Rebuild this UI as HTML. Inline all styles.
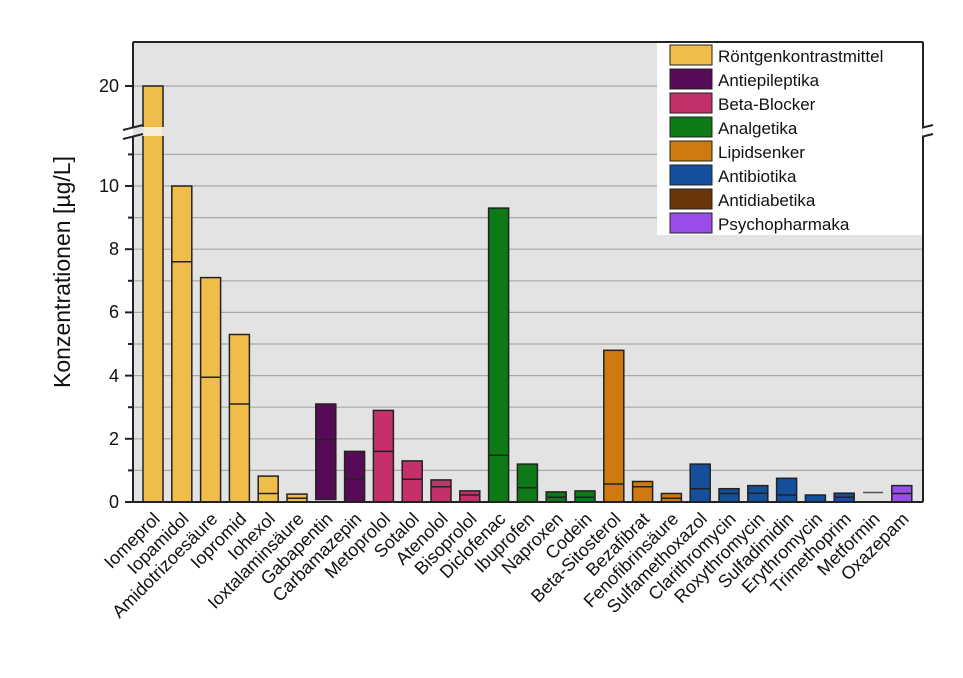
<!DOCTYPE html>
<html><head><meta charset="utf-8"><style>
body{margin:0;background:#fff}
svg text{font-family:"Liberation Sans",Arial,sans-serif}
</style></head><body>
<svg width="963" height="673" viewBox="0 0 963 673" xmlns="http://www.w3.org/2000/svg">
<rect x="133" y="42" width="790" height="460" fill="#e3e3e3"/>
<g stroke="#a8a8a8" stroke-width="1.2">
<line x1="133" x2="923" y1="86" y2="86"/>
<line x1="133" x2="923" y1="154.4" y2="154.4"/>
<line x1="133" x2="923" y1="186" y2="186"/>
<line x1="133" x2="923" y1="217.6" y2="217.6"/>
<line x1="133" x2="923" y1="249.2" y2="249.2"/>
<line x1="133" x2="923" y1="280.8" y2="280.8"/>
<line x1="133" x2="923" y1="312.4" y2="312.4"/>
<line x1="133" x2="923" y1="344" y2="344"/>
<line x1="133" x2="923" y1="375.6" y2="375.6"/>
<line x1="133" x2="923" y1="407.2" y2="407.2"/>
<line x1="133" x2="923" y1="438.8" y2="438.8"/>
<line x1="133" x2="923" y1="470.4" y2="470.4"/>
</g>
<g stroke="#222" stroke-width="1.5">
<rect x="143" y="86" width="20" height="416" fill="#f0bc4a"/>
<rect x="171.8" y="186" width="20" height="316" fill="#f0bc4a"/><line x1="171.8" x2="191.8" y1="261.8" y2="261.8"/>
<rect x="200.6" y="277.6" width="20" height="224.4" fill="#f0bc4a"/><line x1="200.6" x2="220.6" y1="377.2" y2="377.2"/>
<rect x="229.4" y="334.5" width="20" height="167.5" fill="#f0bc4a"/><line x1="229.4" x2="249.4" y1="404" y2="404"/>
<rect x="258.2" y="476.1" width="20" height="25.9" fill="#f0bc4a"/><line x1="258.2" x2="278.2" y1="493.5" y2="493.5"/>
<rect x="287" y="494.1" width="20" height="7.9" fill="#f0bc4a"/><line x1="287" x2="307" y1="498.2" y2="498.2"/>
<rect x="315.8" y="404" width="20" height="95.5" fill="#570a55"/><line x1="315.8" x2="335.8" y1="439.7" y2="439.7"/>
<rect x="344.6" y="451.4" width="20" height="50.6" fill="#570a55"/><line x1="344.6" x2="364.6" y1="479.2" y2="479.2"/>
<rect x="373.4" y="410.4" width="20" height="91.6" fill="#c4306a"/><line x1="373.4" x2="393.4" y1="451.4" y2="451.4"/>
<rect x="402.2" y="460.9" width="20" height="41.1" fill="#c4306a"/><line x1="402.2" x2="422.2" y1="479.2" y2="479.2"/>
<rect x="431" y="479.9" width="20" height="22.1" fill="#c4306a"/><line x1="431" x2="451" y1="486.8" y2="486.8"/>
<rect x="459.8" y="490.9" width="20" height="11.1" fill="#c4306a"/><line x1="459.8" x2="479.8" y1="495" y2="495"/>
<rect x="488.6" y="208.1" width="20" height="293.9" fill="#0e7a17"/><line x1="488.6" x2="508.6" y1="455.2" y2="455.2"/>
<rect x="517.4" y="464.1" width="20" height="37.9" fill="#0e7a17"/><line x1="517.4" x2="537.4" y1="487.8" y2="487.8"/>
<rect x="546.2" y="491.9" width="20" height="10.1" fill="#0e7a17"/><line x1="546.2" x2="566.2" y1="497.3" y2="497.3"/>
<rect x="575" y="490.9" width="20" height="11.1" fill="#0e7a17"/><line x1="575" x2="595" y1="497.3" y2="497.3"/>
<rect x="603.8" y="350.3" width="20" height="151.7" fill="#cf7a10"/><line x1="603.8" x2="623.8" y1="484" y2="484"/>
<rect x="632.6" y="481.5" width="20" height="20.5" fill="#cf7a10"/><line x1="632.6" x2="652.6" y1="486.8" y2="486.8"/>
<rect x="661.4" y="493.5" width="20" height="8.5" fill="#cf7a10"/><line x1="661.4" x2="681.4" y1="498.2" y2="498.2"/>
<rect x="690.2" y="464.1" width="20" height="37.9" fill="#134f9a"/><line x1="690.2" x2="710.2" y1="488.7" y2="488.7"/>
<rect x="719" y="488.7" width="20" height="13.3" fill="#134f9a"/><line x1="719" x2="739" y1="493.5" y2="493.5"/>
<rect x="747.8" y="485.6" width="20" height="16.4" fill="#134f9a"/><line x1="747.8" x2="767.8" y1="493.2" y2="493.2"/>
<rect x="776.6" y="478.3" width="20" height="23.7" fill="#134f9a"/><line x1="776.6" x2="796.6" y1="495" y2="495"/>
<rect x="805.4" y="495" width="20" height="7" fill="#134f9a"/>
<rect x="834.2" y="493.2" width="20" height="8.8" fill="#134f9a"/><line x1="834.2" x2="854.2" y1="497.3" y2="497.3"/>
<line x1="863" x2="883" y1="492.5" y2="492.5" stroke="#555"/>
<rect x="891.8" y="485.6" width="20" height="16.4" fill="#9a4de8"/><line x1="891.8" x2="911.8" y1="493.5" y2="493.5"/>
</g>
<rect x="133" y="127" width="790" height="9" fill="#e3e3e3"/>
<rect x="144" y="127" width="18" height="9" fill="#f6ecd8"/>
<g stroke="#222" stroke-width="2" fill="none">
<line x1="133" y1="42" x2="923" y2="42"/>
<line x1="133" y1="42" x2="133" y2="127"/>
<line x1="133" y1="136" x2="133" y2="502"/>
<line x1="923" y1="42" x2="923" y2="127"/>
<line x1="923" y1="136" x2="923" y2="502"/>
<line x1="133" y1="502" x2="923" y2="502"/>
<line x1="123" y1="130" x2="143" y2="125"/><line x1="123" y1="139" x2="143" y2="134"/>
<line x1="913" y1="130" x2="933" y2="125"/><line x1="913" y1="139" x2="933" y2="134"/>
<line x1="125" y1="86" x2="133" y2="86"/>
<line x1="125" y1="186" x2="133" y2="186"/>
<line x1="125" y1="249.2" x2="133" y2="249.2"/>
<line x1="125" y1="312.4" x2="133" y2="312.4"/>
<line x1="125" y1="375.6" x2="133" y2="375.6"/>
<line x1="125" y1="438.8" x2="133" y2="438.8"/>
<line x1="125" y1="502" x2="133" y2="502"/>
<line x1="128" y1="154.4" x2="133" y2="154.4"/>
<line x1="128" y1="217.6" x2="133" y2="217.6"/>
<line x1="128" y1="280.8" x2="133" y2="280.8"/>
<line x1="128" y1="344" x2="133" y2="344"/>
<line x1="128" y1="407.2" x2="133" y2="407.2"/>
<line x1="128" y1="470.4" x2="133" y2="470.4"/>
</g>
<g font-size="18" text-anchor="end" fill="#111">
<text x="119" y="92">20</text>
<text x="119" y="192">10</text>
<text x="119" y="255">8</text>
<text x="119" y="318">6</text>
<text x="119" y="382">4</text>
<text x="119" y="445">2</text>
<text x="119" y="508">0</text>
</g>
<text transform="translate(70,272) rotate(-90)" font-size="23" text-anchor="middle" fill="#111">Konzentrationen [µg/L]</text>
<rect x="657" y="43" width="265" height="192" fill="#fff"/>
<g stroke="#222" stroke-width="1">
<rect x="670" y="45" width="42" height="20" fill="#f0bc4a"/>
<rect x="670" y="69" width="42" height="20" fill="#570a55"/>
<rect x="670" y="93" width="42" height="20" fill="#c4306a"/>
<rect x="670" y="117" width="42" height="20" fill="#0e7a17"/>
<rect x="670" y="141" width="42" height="20" fill="#cf7a10"/>
<rect x="670" y="165" width="42" height="20" fill="#134f9a"/>
<rect x="670" y="189" width="42" height="20" fill="#6b3708"/>
<rect x="670" y="213" width="42" height="20" fill="#9a4de8"/>
</g>
<g font-size="17" fill="#111">
<text x="718" y="62">Röntgenkontrastmittel</text>
<text x="718" y="86">Antiepileptika</text>
<text x="718" y="110">Beta-Blocker</text>
<text x="718" y="134">Analgetika</text>
<text x="718" y="158">Lipidsenker</text>
<text x="718" y="182">Antibiotika</text>
<text x="718" y="206">Antidiabetika</text>
<text x="718" y="230">Psychopharmaka</text>
</g>
<g font-size="18" text-anchor="end" fill="#111">
<text transform="translate(161,520) rotate(-45)">Iomeprol</text>
<text transform="translate(189.8,520) rotate(-45)">Iopamidol</text>
<text transform="translate(218.6,520) rotate(-45)">Amidotrizoesäure</text>
<text transform="translate(247.4,520) rotate(-45)">Iopromid</text>
<text transform="translate(276.2,520) rotate(-45)">Iohexol</text>
<text transform="translate(305,520) rotate(-45)">Ioxtalaminsäure</text>
<text transform="translate(333.8,520) rotate(-45)">Gabapentin</text>
<text transform="translate(362.6,520) rotate(-45)">Carbamazepin</text>
<text transform="translate(391.4,520) rotate(-45)">Metoprolol</text>
<text transform="translate(420.2,520) rotate(-45)">Sotalol</text>
<text transform="translate(449,520) rotate(-45)">Atenolol</text>
<text transform="translate(477.8,520) rotate(-45)">Bisoprolol</text>
<text transform="translate(506.6,520) rotate(-45)">Diclofenac</text>
<text transform="translate(535.4,520) rotate(-45)">Ibuprofen</text>
<text transform="translate(564.2,520) rotate(-45)">Naproxen</text>
<text transform="translate(593,520) rotate(-45)">Codein</text>
<text transform="translate(621.8,520) rotate(-45)">Beta-Sitosterol</text>
<text transform="translate(650.6,520) rotate(-45)">Bezafibrat</text>
<text transform="translate(679.4,520) rotate(-45)">Fenofibrinsäure</text>
<text transform="translate(708.2,520) rotate(-45)">Sulfamethoxazol</text>
<text transform="translate(737,520) rotate(-45)">Clarithromycin</text>
<text transform="translate(765.8,520) rotate(-45)">Roxythromycin</text>
<text transform="translate(794.6,520) rotate(-45)">Sulfadimidin</text>
<text transform="translate(823.4,520) rotate(-45)">Erythromycin</text>
<text transform="translate(852.2,520) rotate(-45)">Trimethoprim</text>
<text transform="translate(881,520) rotate(-45)">Metformin</text>
<text transform="translate(909.8,520) rotate(-45)">Oxazepam</text>
</g>
</svg>
</body></html>
